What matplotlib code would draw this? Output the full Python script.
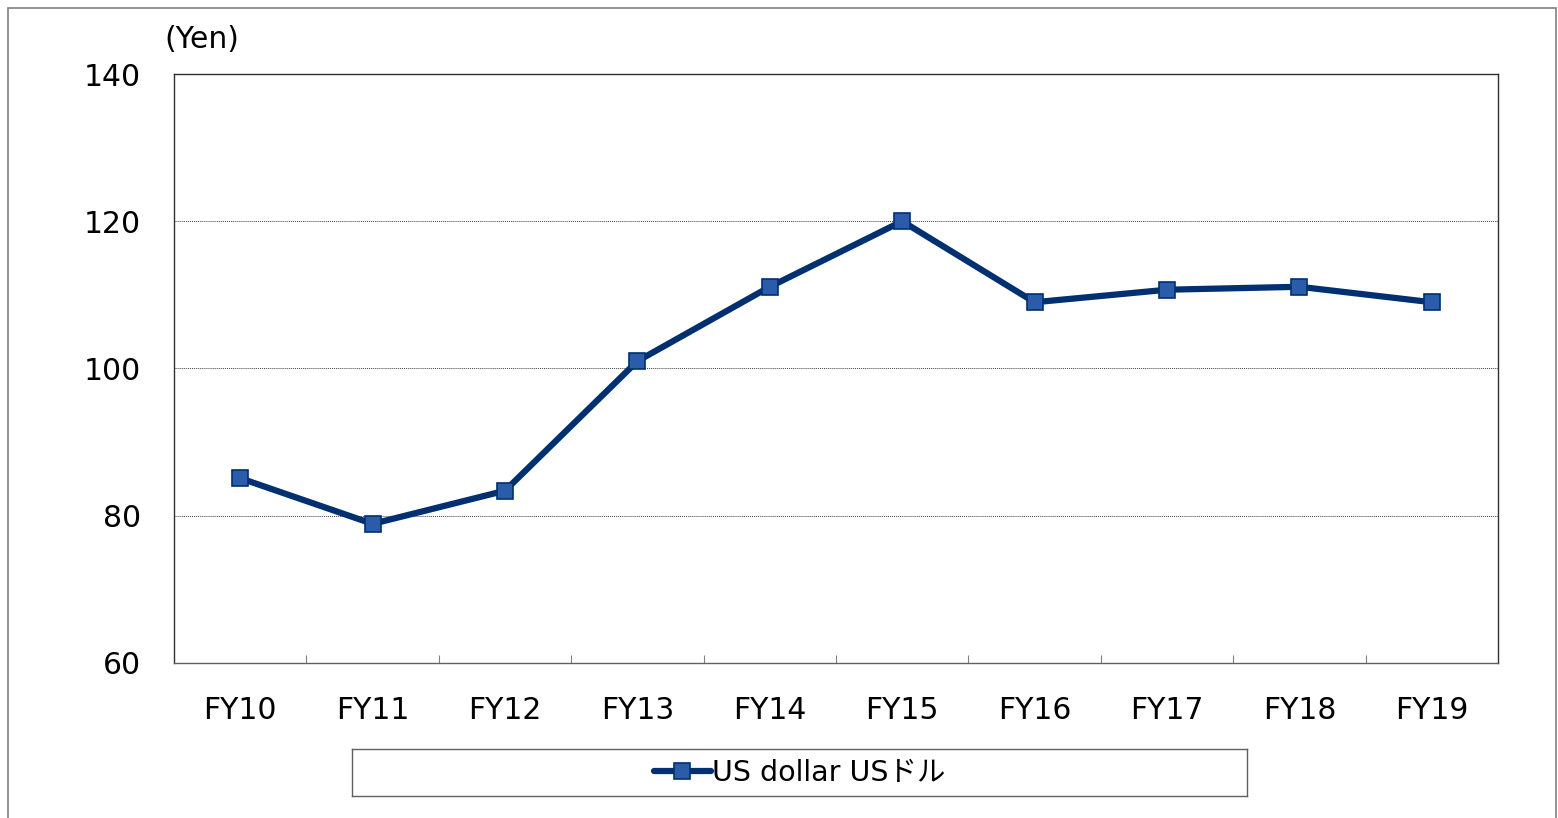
import matplotlib
matplotlib.use("Agg")
import matplotlib.pyplot as plt
from matplotlib.patches import Rectangle
from matplotlib.lines import Line2D

categories = ["FY10", "FY11", "FY12", "FY13", "FY14", "FY15", "FY16", "FY17", "FY18", "FY19"]
usd_values = [85.1, 78.9, 83.4, 101.0, 111.1, 120.0, 109.0, 110.7, 111.1, 109.0]
y_ticks = [60, 80, 100, 120, 140]
series_label = "US dollar USドル"
unit_label = "(Yen)"

W, H = 1558, 818
fs = 21.5
fonts = ["DejaVu Sans", "Noto Sans CJK JP"]
plt.rcParams["font.family"] = fonts
fig = plt.figure(figsize=(W / 100, H / 100), dpi=100)

# outer frame
fig.patches.append(Rectangle((8 / W, -0.01), (1556 - 8) / W, 1.01 - 8 / H,
                             transform=fig.transFigure, fill=False,
                             edgecolor="#808080", linewidth=1.2))

ax = fig.add_axes([174 / W, 1 - 663 / H, (1498 - 174) / W, (663 - 74) / H])
x = list(range(len(categories)))
ax.plot(x, usd_values, color="#003070", linewidth=4.5, marker="s",
        markersize=11.5, markerfacecolor="#2A5CAA", markeredgecolor="#003070",
        markeredgewidth=1.2, zorder=3)

ax.set_xlim(-0.5, len(categories) - 0.5)
ax.set_ylim(60, 140)
ax.set_yticks(y_ticks)
ax.set_yticklabels([str(v) for v in y_ticks], fontsize=fs)
ax.tick_params(axis="y", length=0, pad=24)
ax.set_xticks(x)
ax.set_xticklabels(categories, fontsize=fs)
ax.tick_params(axis="x", which="major", length=0, pad=24)
ax.set_xticks([i + 0.5 for i in x[:-1]], minor=True)
ax.tick_params(axis="x", which="minor", direction="in", length=6,
               color="#808080", width=0.8)

for v in y_ticks[1:-1]:
    ax.axhline(v, color="#404040", linewidth=0.7, linestyle=(0, (1, 1)), zorder=1)

for s in ["top", "right", "left"]:
    ax.spines[s].set_color("#303030")
    ax.spines[s].set_linewidth(1.0)
ax.spines["bottom"].set_color("#606060")
ax.spines["bottom"].set_linestyle((0, (3, 1)))
ax.spines["bottom"].set_linewidth(1.0)

fig.text(164 / W, 1 - 40 / H, unit_label, fontsize=fs, ha="left", va="center")

# legend box
lax = fig.add_axes([352 / W, 1 - 796 / H, (1247 - 352) / W, (796 - 749) / H])
lax.set_xticks([]); lax.set_yticks([])
for s in lax.spines.values():
    s.set_color("#606060"); s.set_linewidth(1.0)
handle = Line2D([], [], color="#003070", linewidth=4.5, marker="s", markersize=11.5,
                markerfacecolor="#2A5CAA", markeredgecolor="#003070", markeredgewidth=1.2,
                solid_capstyle="round")
leg = lax.legend([handle], [series_label], loc="center", frameon=False,
                 prop={"family": fonts, "size": 20.5}, handlelength=2.0,
                 handletextpad=0.05, borderpad=0)

fig.savefig("out.png", dpi=100)
